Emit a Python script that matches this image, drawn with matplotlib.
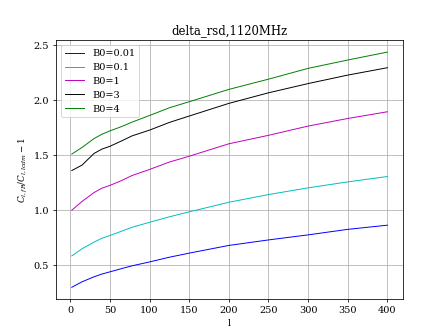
import matplotlib
matplotlib.use("Agg")
import matplotlib.pyplot as plt

plt.rcParams["font.family"] = "DejaVu Serif"
plt.rcParams["mathtext.fontset"] = "dejavuserif"

ell = [2, 15, 30, 40, 50, 65, 78, 100, 125, 150, 200, 250, 300, 350, 400]
b001 = [0.30, 0.35, 0.395, 0.42, 0.44, 0.47, 0.495, 0.53, 0.573, 0.61, 0.68, 0.73, 0.776, 0.826, 0.864]
b01 = [0.585, 0.65, 0.71, 0.745, 0.77, 0.81, 0.845, 0.89, 0.94, 0.985, 1.072, 1.142, 1.203, 1.257, 1.306]
b1 = [1.0, 1.08, 1.16, 1.20, 1.225, 1.27, 1.315, 1.37, 1.437, 1.49, 1.603, 1.68, 1.764, 1.833, 1.894]
b3 = [1.36, 1.41, 1.515, 1.555, 1.58, 1.63, 1.675, 1.727, 1.797, 1.855, 1.97, 2.066, 2.15, 2.227, 2.294]
b4 = [1.51, 1.57, 1.65, 1.69, 1.72, 1.76, 1.80, 1.86, 1.93, 1.985, 2.097, 2.19, 2.288, 2.364, 2.436]

fig = plt.figure(figsize=(6.4, 4.8), dpi=70)
plt.plot(ell, b001, "b", lw=1, label="B0=0.01")
plt.plot(ell, b01, "c", lw=1, label="B0=0.1")
plt.plot(ell, b1, "m", lw=1, label="B0=1")
plt.plot(ell, b3, "k", lw=1, label="B0=3")
plt.plot(ell, b4, "g", lw=1, label="B0=4")
plt.xlabel("l")
plt.ylabel(r"$C_{l,fR}/C_{l,lcdm}-1$", fontsize=9)
plt.title("delta_rsd,1120MHz")
plt.grid()
plt.legend(loc="upper left")
plt.savefig("out.png")
